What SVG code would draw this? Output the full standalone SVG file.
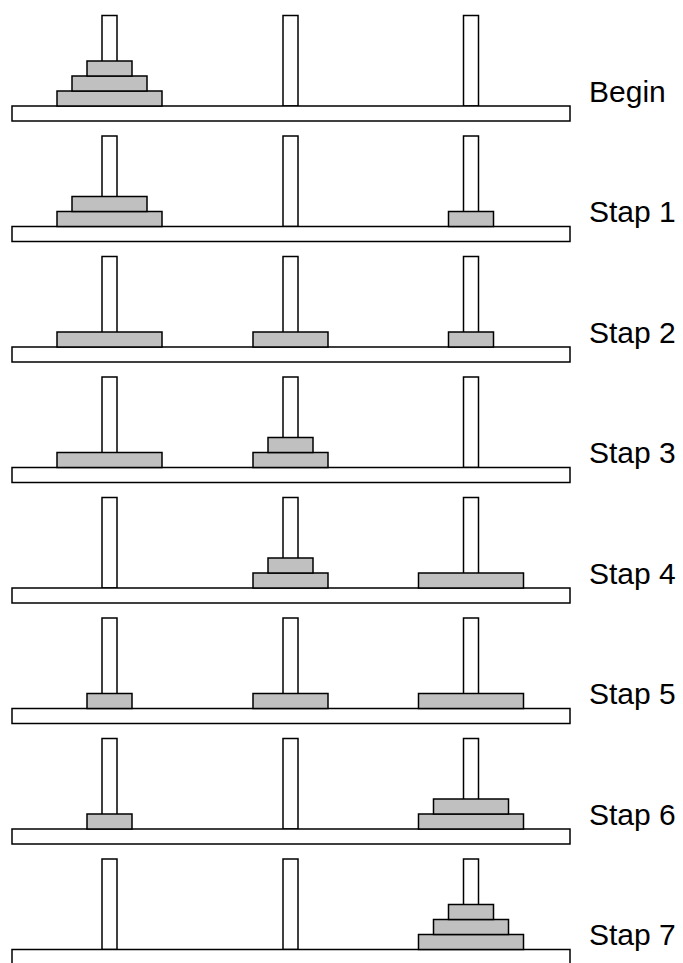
<svg xmlns="http://www.w3.org/2000/svg" width="683" height="963" viewBox="0 0 683 963">
<style>
.peg{fill:#fff;stroke:#000;stroke-width:1.5}
.base{fill:#fff;stroke:#000;stroke-width:1.5}
.disk{fill:#c0c0c0;stroke:#000;stroke-width:1.5}
.lbl{font-family:"Liberation Sans",Arial,sans-serif;font-size:30px;fill:#000}
</style>
<defs>
<g id="pegs">
<rect class="peg" x="102" y="15.5" width="15" height="90.5"/>
<rect class="peg" x="283" y="15.5" width="15" height="90.5"/>
<rect class="peg" x="463.5" y="15.5" width="15" height="90.5"/>
<rect class="base" x="12" y="106" width="558" height="15"/>
</g>
</defs>
<rect width="683" height="963" fill="#fff"/>
<g id="row0">
<use href="#pegs"/>
<rect class="disk" x="57" y="91" width="105" height="15"/>
<rect class="disk" x="72" y="76" width="75" height="15"/>
<rect class="disk" x="87" y="61" width="45" height="15"/>
<text class="lbl" x="589" y="101.7">Begin</text>
</g>
<g id="row1" transform="translate(0,120.5)">
<use href="#pegs"/>
<rect class="disk" x="57" y="91" width="105" height="15"/>
<rect class="disk" x="72" y="76" width="75" height="15"/>
<rect class="disk" x="448.5" y="91" width="45" height="15"/>
<text class="lbl" x="589" y="101.7">Stap 1</text>
</g>
<g id="row2" transform="translate(0,241)">
<use href="#pegs"/>
<rect class="disk" x="57" y="91" width="105" height="15"/>
<rect class="disk" x="253" y="91" width="75" height="15"/>
<rect class="disk" x="448.5" y="91" width="45" height="15"/>
<text class="lbl" x="589" y="101.7">Stap 2</text>
</g>
<g id="row3" transform="translate(0,361.5)">
<use href="#pegs"/>
<rect class="disk" x="57" y="91" width="105" height="15"/>
<rect class="disk" x="253" y="91" width="75" height="15"/>
<rect class="disk" x="268" y="76" width="45" height="15"/>
<text class="lbl" x="589" y="101.7">Stap 3</text>
</g>
<g id="row4" transform="translate(0,482)">
<use href="#pegs"/>
<rect class="disk" x="253" y="91" width="75" height="15"/>
<rect class="disk" x="268" y="76" width="45" height="15"/>
<rect class="disk" x="418.5" y="91" width="105" height="15"/>
<text class="lbl" x="589" y="101.7">Stap 4</text>
</g>
<g id="row5" transform="translate(0,602.5)">
<use href="#pegs"/>
<rect class="disk" x="87" y="91" width="45" height="15"/>
<rect class="disk" x="253" y="91" width="75" height="15"/>
<rect class="disk" x="418.5" y="91" width="105" height="15"/>
<text class="lbl" x="589" y="101.7">Stap 5</text>
</g>
<g id="row6" transform="translate(0,723)">
<use href="#pegs"/>
<rect class="disk" x="87" y="91" width="45" height="15"/>
<rect class="disk" x="418.5" y="91" width="105" height="15"/>
<rect class="disk" x="433.5" y="76" width="75" height="15"/>
<text class="lbl" x="589" y="101.7">Stap 6</text>
</g>
<g id="row7" transform="translate(0,843.5)">
<use href="#pegs"/>
<rect class="disk" x="418.5" y="91" width="105" height="15"/>
<rect class="disk" x="433.5" y="76" width="75" height="15"/>
<rect class="disk" x="448.5" y="61" width="45" height="15"/>
<text class="lbl" x="589" y="101.7">Stap 7</text>
</g>
<g id="connectors"/>
</svg>
